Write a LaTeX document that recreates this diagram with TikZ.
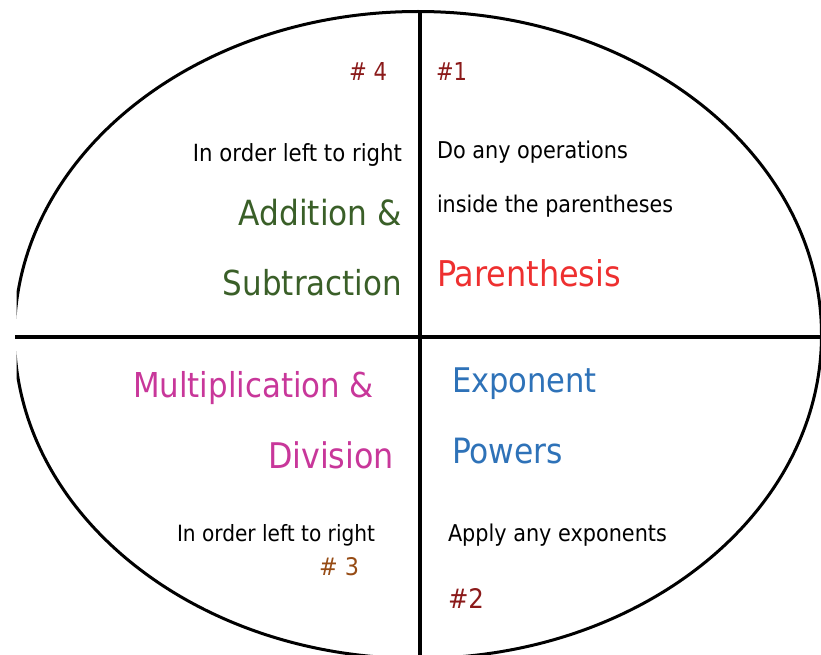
\documentclass[tikz,border=0pt]{standalone}
\usepackage{fontspec}
\usepackage{graphicx}
\setmainfont{DejaVu Sans Condensed}
\definecolor{numred}{HTML}{8B1A1A}
\definecolor{numbrown}{HTML}{964B14}
\definecolor{addgreen}{HTML}{3A5F28}
\definecolor{parred}{HTML}{EE3030}
\definecolor{mulmag}{HTML}{C8379A}
\definecolor{expblue}{HTML}{2E72B8}
\newcommand{\fitw}[2]{\resizebox{#1bp}{!}{#2}}
\newcommand{\fitwh}[3]{\resizebox{#1bp}{#2bp}{#3}}
\begin{document}
\begin{tikzpicture}[x=1bp,y=-1bp,
  txt/.style={inner sep=0pt,outer sep=0pt},
  rule/.style={line width=3.5bp,black}]
\useasboundingbox (0,0) rectangle (821,655);
\begin{scope}
  \clip (16.5,0) rectangle (821,655);
  \draw[line width=3bp] (418,335) ellipse [x radius=403.5, y radius=323.5];
\end{scope}
\coordinate (top) at (420,11);
\coordinate (bot) at (420,655);
\coordinate (lft) at (15,337);
\coordinate (rgt) at (821,337);
\draw[rule] (top) -- (bot);
\draw[rule] (lft) -- (rgt);
% quadrant 4 (top left)
\node[txt,anchor=base west,text=numred] (n4) at (349,81) {\fitwh{38}{18}{\# 4}};
\node[txt,anchor=base east] (t4a) at (402,161) {\fitw{209}{In order left to right}};
\node[txt,anchor=base east,text=addgreen] (t4b) at (402,225) {\fitw{163}{Addition \&}};
\node[txt,anchor=base east,text=addgreen] (t4c) at (402,295) {\fitw{179}{Subtraction}};
% quadrant 1 (top right)
\node[txt,anchor=base west,text=numred] (n1) at (436,81) {\fitwh{31}{18}{\#1}};
\node[txt,anchor=base west] (t1a) at (437,159) {\fitw{191}{Do any operations}};
\node[txt,anchor=base west] (t1b) at (437,212) {\fitw{236}{inside the parentheses}};
\node[txt,anchor=base west,text=parred] (t1c) at (437,286) {\fitw{184}{Parenthesis}};
% quadrant 3 (bottom left)
\node[txt,anchor=base west,text=mulmag] (t3a) at (133,397) {\fitw{241}{Multiplication \&}};
\node[txt,anchor=base west,text=mulmag] (t3b) at (268,468) {\fitw{126}{Division}};
\node[txt,anchor=base west] (t3c) at (177,541) {\fitw{198}{In order left to right}};
\node[txt,anchor=base west,text=numbrown] (n3) at (319,575) {\fitwh{40}{18}{\# 3}};
% quadrant 2 (bottom right)
\node[txt,anchor=base west,text=expblue] (t2a) at (452,392) {\fitw{145}{Exponent}};
\node[txt,anchor=base west,text=expblue] (t2b) at (452,463) {\fitw{111}{Powers}};
\node[txt,anchor=base west] (t2c) at (448,541) {\fitw{219}{Apply any exponents}};
\node[txt,anchor=base west,text=numred] (n2) at (448,608) {\fitwh{36}{20}{\#2}};
\end{tikzpicture}
\end{document}
